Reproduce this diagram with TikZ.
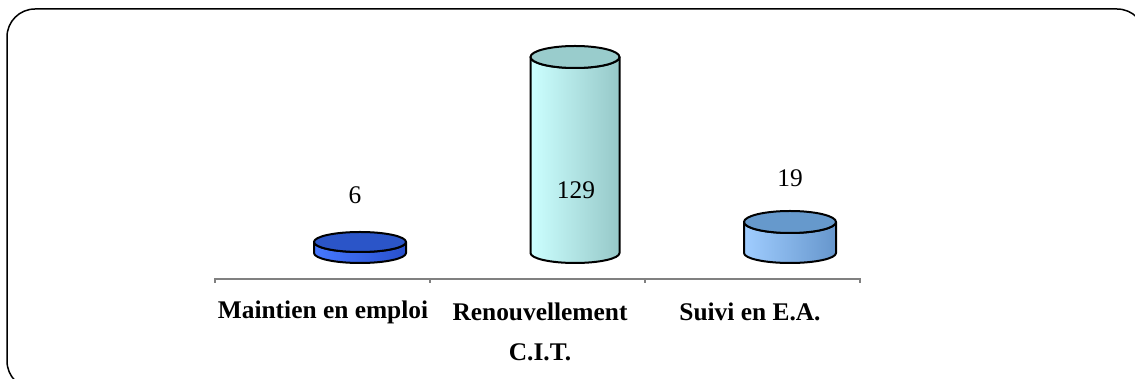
\documentclass[tikz,border=0pt]{standalone}
\usepackage{fontspec}
\setmainfont{Liberation Serif}
\definecolor{blueTop}{RGB}{43,85,200}
\definecolor{blueL}{RGB}{70,120,255}
\definecolor{blueR}{RGB}{40,80,205}
\definecolor{cyanTop}{RGB}{153,204,204}
\definecolor{cyanL}{RGB}{204,255,255}
\definecolor{cyanR}{RGB}{150,200,200}
\definecolor{lbTop}{RGB}{102,153,204}
\definecolor{lbL}{RGB}{160,205,255}
\definecolor{lbR}{RGB}{102,150,204}
\definecolor{axisgray}{RGB}{128,128,128}
\tikzset{
  outline/.style={draw=black,line width=1pt,line join=round},
  catlabel/.style={font=\fontsize{12.7}{15}\selectfont\bfseries,inner sep=0pt,anchor=center},
  vallabel/.style={font=\fontsize{12.7}{15}\selectfont,inner sep=0pt,anchor=center},
  axisline/.style={draw=axisgray,line width=0.75pt}
}
\begin{document}
\begin{tikzpicture}[x=0.5pt,y=0.5pt]
\useasboundingbox (0,0) rectangle (1135,379);
\clip (0,0) rectangle (1135,379);
% frame
\draw[line width=0.75pt,rounded corners=14pt] (7,-10) rectangle (1145,370);
% axis
\draw[axisline] (215,96) -- (215,100) -- (860,100) -- (860,96);
\draw[axisline] (430,100) -- (430,96);
\draw[axisline] (645,100) -- (645,96);
% cylinder 1
\path[outline,left color=blueL,right color=blueR]
  (314,137) -- (314,126) arc(180:360:46 and 10) -- (406,137) arc(360:180:46 and 10) -- cycle;
\path[outline,fill=blueTop] (360,137) ellipse (46 and 10);
% cylinder 2
\path[outline,left color=cyanL,right color=cyanR]
  (530.5,322) -- (530.5,126) arc(180:360:44.5 and 10) -- (619.5,322) arc(360:180:44.5 and 11) -- cycle;
\path[outline,fill=cyanTop] (575,322) ellipse (44.5 and 11);
% cylinder 3
\path[outline,left color=lbL,right color=lbR]
  (744,157) -- (744,126) arc(180:360:46 and 10) -- (836,157) arc(360:180:46 and 11) -- cycle;
\path[outline,fill=lbTop] (790,157) ellipse (46 and 11);
% value labels
\node[vallabel] (v1) at (355,184) {6};
\node[vallabel] (v2) at (576,189) {129};
\node[vallabel] (v3) at (790,201) {19};
% category labels
\node[catlabel] (c1) at (323,67) {Maintien en emploi};
\node[catlabel] (c2) at (540,67) {Renouvellement};
\node[catlabel] (c2b) at (540,27) {C.I.T.};
\node[catlabel] (c3) at (750,67) {Suivi en E.A.};
\end{tikzpicture}
\end{document}
